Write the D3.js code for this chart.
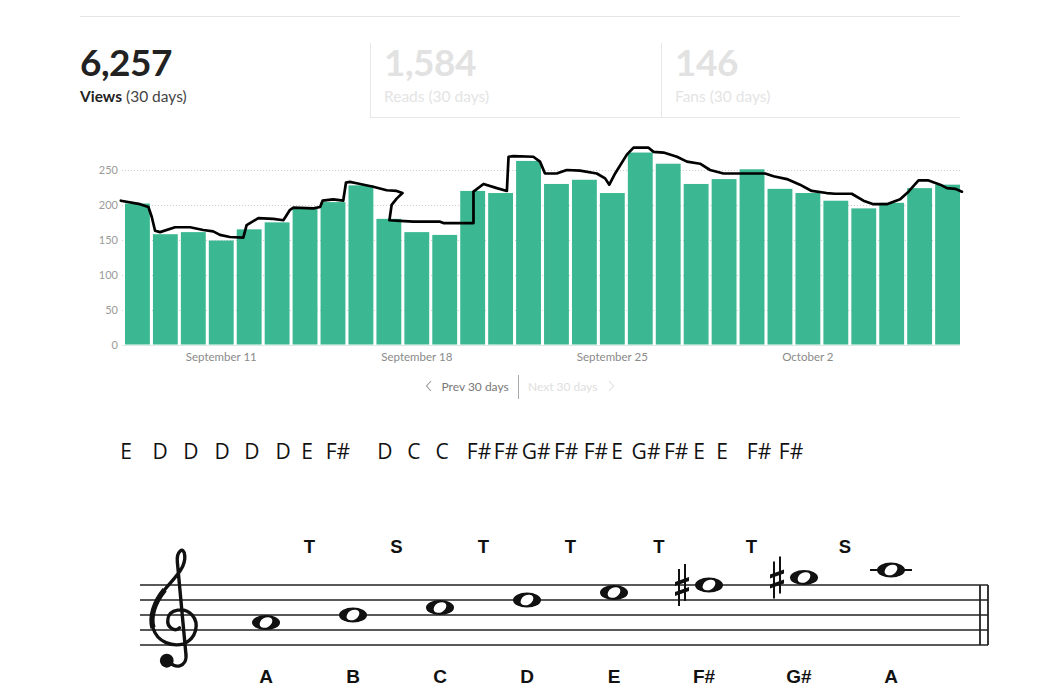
<!DOCTYPE html>
<html><head><meta charset="utf-8">
<script src="https://cdn.jsdelivr.net/npm/d3@7"></script>
<style>html,body{margin:0;padding:0;background:#fff;}svg{display:block;}</style>
</head><body>
<svg id="c" width="1062" height="700"></svg>
<script>
// ---------- data ----------
const days = ["Sep 8","Sep 9","Sep 10","Sep 11","Sep 12","Sep 13","Sep 14","Sep 15","Sep 16","Sep 17","Sep 18","Sep 19","Sep 20","Sep 21","Sep 22","Sep 23","Sep 24","Sep 25","Sep 26","Sep 27","Sep 28","Sep 29","Sep 30","Oct 1","Oct 2","Oct 3","Oct 4","Oct 5","Oct 6","Oct 7"];
const views = [202,158,161,149,165,175,195,204,228,180,161,157,220,217,263,230,236,217,275,259,230,237,251,223,217,206,195,203,224,229];
const tickDays = ["Sep 11","Sep 18","Sep 25","Oct 2"];
const tickLabels = ["September 11","September 18","September 25","October 2"];
const yTicks = [0,50,100,150,200,250];

const statValues = ["6,257","1,584","146"];
const statNames = ["Views","Reads","Fans"];

// hand-drawn overlay: [day position, value]
const handLine = [[-0.15,206],[0.54,201],[0.84,197],[0.96,183],[1.08,163],[1.26,161],[1.8,168],[2.34,168],[2.81,164],[3.17,162],[3.41,157],[3.77,154],[4.25,153],[4.37,171],[4.79,181],[5.33,180],[5.69,178],[5.93,193],[6.05,196],[6.77,195],[7.01,197],[7.1,206],[7.48,208],[7.84,206],[7.94,232],[8.08,233],[8.32,231],[8.92,226],[9.4,221],[9.76,220],[9.97,217],[9.76,209],[9.58,200],[9.5,178],[9.88,177],[10.36,176],[11.32,176],[11.44,174],[12.52,174],[12.52,219],[12.88,230],[13.36,224],[13.72,220],[13.78,269],[13.96,270],[14.67,269],[14.91,262],[15.09,245],[15.51,245],[15.87,250],[16.35,249],[16.95,245],[17.25,238],[17.4,229],[17.61,245],[18.03,272],[18.27,282],[18.81,282],[18.99,276],[19.35,275],[19.83,269],[20.19,262],[20.66,259],[21.02,250],[21.5,245],[23.0,245],[23.3,241],[23.78,237],[24.25,229],[24.67,220],[25.21,217],[25.51,216],[26.11,216],[26.53,206],[26.89,201],[27.37,201],[27.85,208],[28.15,219],[28.51,235],[28.87,235],[29.29,229],[29.53,224],[29.83,223],[30.07,219]];

// note names written under the chart, with their day position
const noteRow = ["E","D","D","D","D","D","E","F#","D","C","C","F#","F#","G#","F#","F#","E","G#","F#","E","E","F#","F#"];
const noteRowDay = [0.04,1.26,2.37,3.49,4.56,5.68,6.54,7.65,9.34,10.38,11.39,12.72,13.69,14.77,15.85,16.92,17.68,18.72,19.8,20.63,21.45,22.78,23.93];

// A major scale on the staff
const scaleNotes = ["A","B","C","D","E","F#","G#","A"];
const scaleSteps = [3,4,5,6,7,8,9,10]; // diatonic steps above the bottom staff line (E4)
const scaleSharp = [false,false,false,false,false,true,true,false];
const intervals = ["T","S","T","T","T","T","S"];

// ---------- drawing ----------
const svg = d3.select("#c");
const green = "#3bb891";

// top rule
svg.append("line").attr("x1",80).attr("x2",960).attr("y1",16.5).attr("y2",16.5).attr("stroke","#e6e6e6");

// stats
const statXs = {Views:80, Reads:384, Fans:675};
const stats = svg.append("g");
statNames.forEach((n,i)=>{
  const x = statXs[n];
  const active = i===0;
  stats.append("text").attr("x",x).attr("y",76).text(statValues[i])
    .attr("font-family","Lato").attr("font-weight",700).attr("font-size",37).attr("letter-spacing",-0.5)
    .attr("fill",active?"#222":"#e2e2e2");
  const t = stats.append("text").attr("x",x).attr("y",101.5)
    .attr("font-family","Lato").attr("font-size",15.5).attr("fill",active?"#444":"#e4e4e4");
  t.append("tspan").text(n).attr("font-weight",active?700:400).attr("fill",active?"#222":"#e4e4e4");
  t.append("tspan").text(" (30 days)");
});
[370.5,661.5].forEach(x=>svg.append("line").attr("x1",x).attr("x2",x).attr("y1",43).attr("y2",117).attr("stroke","#e8e8e8"));
svg.append("line").attr("x1",370).attr("x2",960).attr("y1",117.5).attr("y2",117.5).attr("stroke","#e8e8e8");

// chart scales
const x = d3.scaleBand().domain(days).range([125,960]).paddingInner(0.11).paddingOuter(0);
const xl = d3.scaleLinear().domain([0,30]).range([125,960]);
const y = d3.scaleLinear().domain([0,250]).range([344.5,170]);

// y axis + gridlines
const yAxis = d3.axisLeft(y).tickValues(yTicks).tickSize(0).tickPadding(0);
const ya = svg.append("g").attr("transform","translate(118,0)").call(yAxis);
ya.select(".domain").remove();
ya.selectAll("text").attr("font-family","Lato").attr("font-size",11).attr("fill","#9a9a9a");
svg.append("g").selectAll("line").data(yTicks.filter(d=>d>0)).join("line")
  .attr("x1",122).attr("x2",960).attr("y1",d=>Math.round(y(d))+0.5).attr("y2",d=>Math.round(y(d))+0.5)
  .attr("stroke","#cfcfcf").attr("stroke-dasharray","1,2");

// bars
svg.append("g").selectAll("rect").data(views).join("rect")
  .attr("x",(d,i)=>x(days[i])).attr("width",x.bandwidth())
  .attr("y",d=>y(d)).attr("height",d=>y(0)-y(d)).attr("fill",green);

// baseline
svg.append("line").attr("x1",122).attr("x2",960).attr("y1",345.5).attr("y2",345.5).attr("stroke","#dcebe5");

// x axis labels
const xAxis = d3.axisBottom(x).tickValues(tickDays).tickFormat((d,i)=>tickLabels[i]).tickSize(0).tickPadding(0);
const xa = svg.append("g").attr("transform","translate(0,353)").call(xAxis);
xa.select(".domain").remove();
xa.selectAll("text").attr("font-family","Lato").attr("font-size",11.5).attr("fill","#8a8a8a");

// hand-drawn line
svg.append("path").datum(handLine)
  .attr("d",d3.line().x(d=>xl(d[0])).y(d=>y(d[1])))
  .attr("fill","none").attr("stroke","#000").attr("stroke-width",2.7).attr("stroke-linejoin","round").attr("stroke-linecap","round");

// pagination
const pg = svg.append("g").attr("font-family","Lato").attr("font-size",12);
pg.append("path").attr("d","M431,381 L426.5,386 L431,391").attr("fill","none").attr("stroke","#999").attr("stroke-width",1.1);
pg.append("text").attr("x",441.5).attr("y",391).text("Prev 30 days").attr("fill","#777");
pg.append("line").attr("x1",518.5).attr("x2",518.5).attr("y1",375).attr("y2",399).attr("stroke","#aaa");
pg.append("text").attr("x",528).attr("y",391).text("Next 30 days").attr("fill","#dedede");
pg.append("path").attr("d","M609,381 L613.5,386 L609,391").attr("fill","none").attr("stroke","#dedede").attr("stroke-width",1.1);

// note row
svg.append("g").selectAll("text").data(noteRow).join("text")
  .attr("x",(d,i)=>xl(noteRowDay[i])).attr("y",459).attr("text-anchor","middle")
  .attr("font-family","Open Sans").attr("font-size",21).attr("fill","#111").text(d=>d);

// ---------- staff ----------
const staffBottom = 645, space = 15;
const stepY = s => staffBottom - s*space/2;
const staff = svg.append("g");
d3.range(5).forEach(k=>{
  staff.append("line").attr("x1",140).attr("x2",988).attr("y1",stepY(k*2)).attr("y2",stepY(k*2))
    .attr("stroke","#222").attr("stroke-width",1.6);
});
[980,988].forEach(xx=>staff.append("line").attr("x1",xx).attr("x2",xx).attr("y1",stepY(8)).attr("y2",stepY(0)).attr("stroke","#222").attr("stroke-width",1.8));

// treble clef (glyph drawn as path, relative to G line)
const clef = staff.append("g").attr("transform",`translate(171,${stepY(2)}) scale(1.06)`);
clef.append("path")
  .attr("d","M-2,29 C2,37 16,36 14,22 L6,-64 C5,-74 12,-80 13,-70 C14,-58 2,-48 -6,-38 C-16,-26 -20,-12 -17,-2 C-13,12 2,16 12,13 C24,8 27,-6 20,-14 C13,-22 -2,-20 -3,-10 C-4,-2 4,2 8,-2")
  .attr("fill","none").attr("stroke","#111").attr("stroke-width",3.2).attr("stroke-linecap","round").attr("stroke-linejoin","round");
clef.append("path").attr("d","M-6,-38 C-16,-26 -20,-12 -17,-2").attr("fill","none").attr("stroke","#111").attr("stroke-width",5);
clef.append("circle").attr("cx",-4).attr("cy",29).attr("r",6.5).attr("fill","#111");

// note positions
let cum = 0;
const headX = scaleNotes.map((n,i)=>{ if(scaleSharp[i]) cum++; return 266 + 87*i + 8*cum; });
const labelX = headX.map((hx,i)=> scaleSharp[i] ? hx-5 : hx);

const notes = staff.selectAll("g.note").data(scaleNotes).join("g").attr("class","note")
  .attr("transform",(d,i)=>`translate(${headX[i]},${stepY(scaleSteps[i])})`);
notes.filter((d,i)=>scaleSteps[i]>=10).append("line").attr("x1",-21).attr("x2",21).attr("y1",0).attr("y2",0).attr("stroke","#111").attr("stroke-width",2.2);
notes.append("ellipse").attr("rx",14).attr("ry",7.5).attr("fill","#111");
notes.append("ellipse").attr("rx",6.8).attr("ry",4.8).attr("transform","rotate(-30)").attr("fill","#fff");
const sh = notes.filter((d,i)=>scaleSharp[i]).append("g").attr("transform","translate(-27,0)");
sh.append("line").attr("x1",-3).attr("x2",-3).attr("y1",-16).attr("y2",21).attr("stroke","#111").attr("stroke-width",2);
sh.append("line").attr("x1",3).attr("x2",3).attr("y1",-21).attr("y2",16).attr("stroke","#111").attr("stroke-width",2);
sh.append("path").attr("d","M-7,-3 L7,-8 L7,-4 L-7,1 Z").attr("fill","#111");
sh.append("path").attr("d","M-7,7 L7,2 L7,6 L-7,11 Z").attr("fill","#111");

staff.selectAll("text.nm").data(scaleNotes).join("text").attr("class","nm")
  .attr("x",(d,i)=>labelX[i]).attr("y",683).attr("text-anchor","middle")
  .attr("font-family","Liberation Sans").attr("font-weight",700).attr("font-size",19).attr("fill","#111").text(d=>d);
staff.selectAll("text.iv").data(intervals).join("text").attr("class","iv")
  .attr("x",(d,i)=>(labelX[i]+labelX[i+1])/2).attr("y",553).attr("text-anchor","middle")
  .attr("font-family","Liberation Sans").attr("font-weight",700).attr("font-size",18.5).attr("fill","#111").text(d=>d);
</script>
</body></html>
